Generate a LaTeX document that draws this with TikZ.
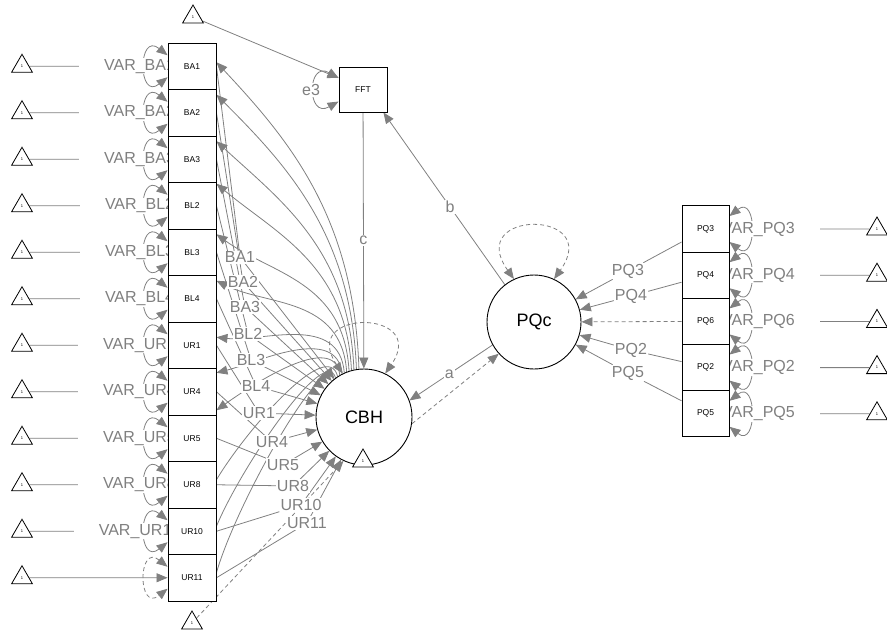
\documentclass[tikz,border=0pt]{standalone}
\usepackage{fontspec}
\setmainfont{Liberation Sans}
\usetikzlibrary{arrows.meta, shapes.geometric, positioning}
\definecolor{edgegray}{RGB}{128,128,128}
\pgfdeclarelayer{edges}
\pgfdeclarelayer{labels}
\pgfsetlayers{edges,labels,main}

\begin{document}
\begin{tikzpicture}[x=1pt, y=-1pt,
    obsbox/.style={draw, line width=0.9pt, fill=white, minimum width=48pt, minimum height=46.5pt, inner sep=0pt, font=\fontsize{8.5}{9}\selectfont},
    lat/.style={draw, circle, line width=0.9pt, fill=white, minimum size=96pt, inner sep=0pt, font=\fontsize{18}{20}\selectfont},
    itri/.style={draw, regular polygon, regular polygon sides=3, line width=0.8pt, fill=white, minimum size=24pt, inner sep=0pt, font=\fontsize{4}{4}\selectfont},
    edge/.style={draw=edgegray, line width=0.8pt},
    tip/.style={-{Triangle[length=11pt,width=9pt]}},
    both/.style={{Triangle[length=11pt,width=9pt]}-{Triangle[length=11pt,width=9pt]}},
    fixedpar/.style={dash pattern=on 4pt off 3pt},
    elabel/.style={text=edgegray, fill=white, inner sep=1pt, font=\fontsize{16}{18}\selectfont},
    vlabel/.style={elabel, inner xsep=25pt}]
  \useasboundingbox (0,0) rectangle (887,630);

  % observed variables
  \foreach \name [count=\i from 0] in {BA1,BA2,BA3,BL2,BL3,BL4,UR1,UR4,UR5,UR8,UR10,UR11} {
    \node[obsbox] (\name) at (192,66.25+46.5*\i) {\name};
    \node[itri] (t\name) at (22,66.25+46.5*\i) {1};
  }
  \foreach \name [count=\i from 0] in {PQ3,PQ4,PQ6,PQ2,PQ5} {
    \node[obsbox, minimum width=47pt, minimum height=46.2pt] (\name) at (705.5,229+46.2*\i) {\name};
    \node[itri] (t\name) at (877,229+46.2*\i) {1};
  }
  \node[obsbox, minimum height=45pt] (FFT) at (363,89.5) {FFT};
  \node[itri] (tFFT) at (193,17) {1};
  \node[itri] (tbot) at (192,623) {1};

  % latent variables
  \node[lat] (CBH) at (364,417) {CBH};
  \node[lat, minimum size=94pt] (PQc) at (534,322) {PQc};
  \node[itri] (tCBH) at (363,461) {1};

  % labels
  \begin{pgfonlayer}{labels}
    \foreach \name in {BA1,BA2,BA3,BL2,BL3,BL4,UR1,UR4,UR5,UR8,UR10}
      \node[vlabel] at ([xshift=-28pt]\name.west) {VAR\_\name};
    \foreach \name in {PQ3,PQ4,PQ6,PQ2,PQ5}
      \node[vlabel] at ([xshift=29pt]\name.east) {VAR\_\name};
    \foreach \name/\lx/\ly in {BA1/240/257, BA2/243/282, BA3/245/307, BL2/248/334, BL3/251/360, BL4/256/386,
        UR1/259/413, UR4/272/442, UR5/283/465, UR8/293/486, UR10/301/505, UR11/307/523}
      \node[elabel] (l\name) at (\lx,\ly) {\name};
    \foreach \name/\lx/\ly in {PQ3/628/271, PQ4/631/296, PQ2/631/350, PQ5/628/373}
      \node[elabel] (l\name) at (\lx,\ly) {\name};
    \node[elabel] (le3) at (311,90) {e3};
  \end{pgfonlayer}

  \begin{pgfonlayer}{edges}
    % intercepts
    \foreach \name in {BA1,BA2,BA3,BL2,BL3,BL4,UR1,UR4,UR5,UR8,UR10,UR11,PQ3,PQ4,PQ6,PQ2,PQ5}
      \draw[edge,tip] (t\name) -- (\name);
    \draw[edge,tip] (tFFT) -- ([yshift=11.5pt]FFT.west);
    \draw[edge,tip,fixedpar] (tbot) -- (CBH.245);
    % variances
    \foreach \name in {BA1,BA2,BA3,BL2,BL3,BL4,UR1,UR4,UR5,UR8,UR10}
      \draw[edge,both] ([yshift=11pt]\name.west) .. controls +(-30,-24) and +(-30,24) .. ([yshift=-11pt]\name.west);
    \draw[edge,both,fixedpar] ([yshift=11pt]UR11.west) .. controls +(-30,-24) and +(-30,24) .. ([yshift=-11pt]UR11.west);
    \foreach \name in {PQ3,PQ4,PQ6,PQ2,PQ5}
      \draw[edge,both] ([yshift=13pt]\name.east) .. controls +(28,-22) and +(28,22) .. ([yshift=-13pt]\name.east);
    \draw[edge,both] ([yshift=11.5pt]FFT.west) .. controls +(-32,-18) and +(-32,18) .. ([yshift=-12pt]FFT.west);
    \draw[edge,both,fixedpar] (CBH.116) .. controls +(-45,-65) and +(45,-65) .. (CBH.64);
    \draw[edge,both,fixedpar] (PQc.115) .. controls +(-50,-70) and +(50,-70) .. (PQc.65);
    % CBH curves
    \foreach \name/\ang/\dy/\up/\cx/\cy in {BA1/96/4/150/75/80, BA2/99/18/135/70/70, BA3/102/18/120/65/60,
        BL2/105/22/105/60/50, BL3/108/18/90/55/40, BL4/111/18/75/50/25, UR1/114/8/60/45/5,
        UR4/117/19/50/40/-10, UR5/120/28/45/35/-25}
      \draw[edge,tip] (CBH.\ang) .. controls +(-5,-\up) and +(\cx,\cy) .. ([yshift=\dy pt]\name.east);
    \foreach \name/\ang/\up/\cx/\cy in {UR8/123/40/30/-50, UR10/126/35/25/-60, UR11/129/30/20/-70}
      \draw[edge] (CBH.\ang) .. controls +(-10,-\up) and +(\cx,\cy) .. ([yshift=5pt]\name.east);
    \foreach \name in {BA1,BA2,BA3,BL2,BL3,BL4,UR1,UR4,UR5,UR8,UR10,UR11} {
      \draw[edge] (\name.east) -- (l\name);
      \draw[edge,tip] (l\name) -- (CBH);
    }
    % PQc indicators
    \foreach \name/\dy in {PQ3/-13, PQ4/-7, PQ2/6, PQ5/13} {
      \draw[edge] ([yshift=\dy pt]\name.west) -- (l\name);
      \draw[edge,tip] (l\name) -- (PQc);
    }
    \draw[edge,tip,fixedpar] (PQ6) -- (PQc);
    % structural paths
    \draw[edge,tip] (FFT) -- node[elabel]{c} (CBH);
    \draw[edge,tip] (PQc.128) -- node[elabel,pos=0.45]{b} ([xshift=-4pt]FFT.south east);
    \draw[edge,tip] (PQc.209) -- node[elabel,pos=0.52]{a} (CBH.20);
    \draw[edge,tip,fixedpar] (CBH.-8) -- (PQc.222);
  \end{pgfonlayer}
\end{tikzpicture}
\end{document}
